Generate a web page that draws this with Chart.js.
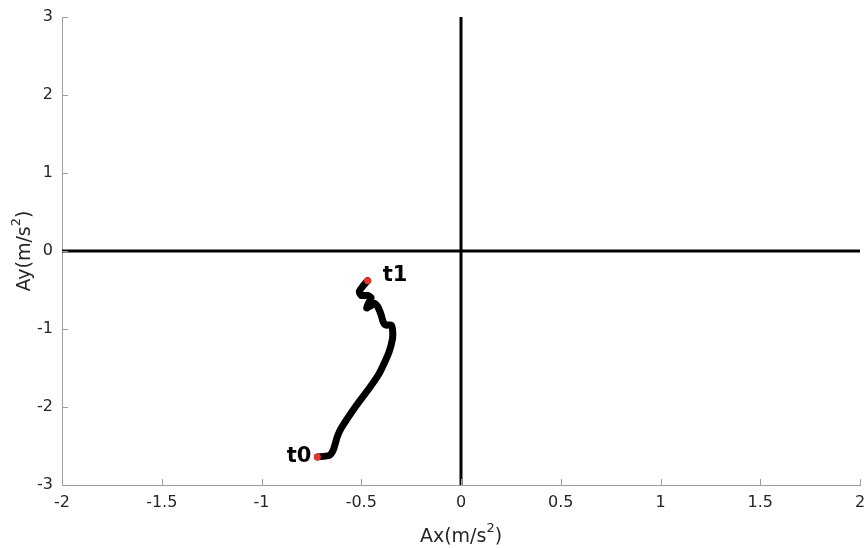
<!DOCTYPE html>
<html>
<head>
<meta charset="utf-8">
<script src="https://cdn.jsdelivr.net/npm/chart.js@4"></script>
<style>
  html, body { margin: 0; padding: 0; background: #fff; }
  canvas { display: block; }
</style>
</head>
<body>
<canvas id="accelChart" width="867" height="548"></canvas>
<script>
// trajectory from t0 to t1
const pathX = [-0.72, -0.66, -0.64, -0.62, -0.60, -0.53, -0.46, -0.41, -0.385, -0.36,
  -0.343, -0.343, -0.35, -0.377, -0.39, -0.40, -0.418, -0.435, -0.457, -0.473,
  -0.46, -0.45, -0.468, -0.50, -0.51, -0.49, -0.468];
const pathY = [-2.64, -2.62, -2.55, -2.38, -2.27, -2.00, -1.76, -1.57, -1.44, -1.29,
  -1.12, -1.01, -0.95, -0.95, -0.91, -0.82, -0.71, -0.67, -0.71, -0.73,
  -0.65, -0.60, -0.57, -0.57, -0.52, -0.445, -0.38];
const markerLabels = ['t0', 't1'];

const xRange = [-2, 2];
const yRange = [-3, 3];
const xTicks = [-2, -1.5, -1, -0.5, 0, 0.5, 1, 1.5, 2];
const yTicks = [-3, -2, -1, 0, 1, 2, 3];

const axisGrey = '#9e9e9e';
const textColor = '#262626';
const fontFamily = '"DejaVu Sans", "Liberation Sans", Arial, sans-serif';

const pathPoints = pathX.map((x, i) => ({ x, y: pathY[i] }));
const endPoints = [pathPoints[0], pathPoints[pathPoints.length - 1]];

// inward tick marks, like the original axes
const innerTicks = {
  id: 'innerTicks',
  afterDraw(chart) {
    const { ctx, chartArea, scales } = chart;
    ctx.save();
    ctx.strokeStyle = axisGrey;
    ctx.lineWidth = 1;
    ctx.beginPath();
    xTicks.forEach(v => {
      const px = Math.round(scales.x.getPixelForValue(v)) + 0.5;
      ctx.moveTo(px, chartArea.bottom);
      ctx.lineTo(px, chartArea.bottom - 6);
    });
    yTicks.forEach(v => {
      const py = Math.round(scales.y.getPixelForValue(v)) + 0.5;
      ctx.moveTo(chartArea.left, py);
      ctx.lineTo(chartArea.left + 6, py);
    });
    ctx.stroke();
    ctx.restore();
  }
};

function drawSupTitle(ctx, base, sup, tail, cx, cy) {
  const mainFont = `19px ${fontFamily}`;
  const supFont = `13px ${fontFamily}`;
  ctx.font = mainFont;
  const w1 = ctx.measureText(base).width;
  const w3 = ctx.measureText(tail).width;
  ctx.font = supFont;
  const w2 = ctx.measureText(sup).width;
  let x = cx - (w1 + w2 + w3) / 2;
  ctx.textBaseline = 'middle';
  ctx.textAlign = 'left';
  ctx.font = mainFont;
  ctx.fillText(base, x, cy);
  x += w1;
  ctx.font = supFont;
  ctx.fillText(sup, x, cy - 8);
  x += w2;
  ctx.font = mainFont;
  ctx.fillText(tail, x, cy);
}

const axisTitles = {
  id: 'axisTitles',
  afterDraw(chart) {
    const { ctx, chartArea } = chart;
    ctx.save();
    ctx.fillStyle = textColor;
    const cx = (chartArea.left + chartArea.right) / 2;
    drawSupTitle(ctx, 'Ax(m/s', '2', ')', cx, 537);
    ctx.translate(25, (chartArea.top + chartArea.bottom) / 2);
    ctx.rotate(-Math.PI / 2);
    drawSupTitle(ctx, 'Ay(m/s', '2', ')', 0, 0);
    ctx.restore();
  }
};

const pointTags = {
  id: 'pointTags',
  afterDatasetsDraw(chart) {
    const { ctx, scales } = chart;
    ctx.save();
    ctx.fillStyle = '#000';
    ctx.font = `bold 21px ${fontFamily}`;
    ctx.textBaseline = 'middle';
    const p0 = endPoints[0];
    ctx.textAlign = 'right';
    ctx.fillText(markerLabels[0], scales.x.getPixelForValue(p0.x) - 6, scales.y.getPixelForValue(p0.y));
    const p1 = endPoints[1];
    ctx.textAlign = 'left';
    ctx.fillText(markerLabels[1], scales.x.getPixelForValue(p1.x) + 15, scales.y.getPixelForValue(p1.y) - 5);
    ctx.restore();
  }
};

new Chart(document.getElementById('accelChart').getContext('2d'), {
  type: 'scatter',
  data: {
    datasets: [
      {
        label: 'x axis',
        data: [{ x: xRange[0], y: 0 }, { x: xRange[1], y: 0 }],
        showLine: true,
        borderColor: '#000',
        borderWidth: 3,
        pointRadius: 0,
        order: 3
      },
      {
        label: 'y axis',
        data: [{ x: 0, y: yRange[0] }, { x: 0, y: yRange[1] }],
        showLine: true,
        borderColor: '#000',
        borderWidth: 3,
        pointRadius: 0,
        order: 3
      },
      {
        label: 'trajectory',
        data: pathPoints,
        showLine: true,
        borderColor: '#000',
        borderWidth: 7,
        borderJoinStyle: 'round',
        borderCapStyle: 'round',
        tension: 0.2,
        pointRadius: 0,
        order: 2
      },
      {
        label: 'ends',
        data: endPoints,
        showLine: false,
        backgroundColor: '#e8352a',
        borderColor: '#e8352a',
        borderWidth: 0,
        pointRadius: 3.5,
        order: 1
      }
    ]
  },
  options: {
    responsive: false,
    animation: false,
    layout: { padding: { top: 17, right: 7, left: 0, bottom: 0 } },
    plugins: {
      legend: { display: false },
      tooltip: { enabled: false }
    },
    scales: {
      x: {
        type: 'linear',
        min: xRange[0],
        max: xRange[1],
        afterFit(scale) {
          scale.height = 63;
          scale.paddingLeft = 0;
          scale.paddingRight = 0;
        },
        afterBuildTicks(scale) { scale.ticks = xTicks.map(value => ({ value })); },
        grid: { display: false, drawTicks: false },
        border: { display: true, color: axisGrey, width: 1 },
        ticks: {
          padding: 8,
          color: textColor,
          font: { family: fontFamily, size: 16 },
          callback: value => String(value)
        }
      },
      y: {
        type: 'linear',
        min: yRange[0],
        max: yRange[1],
        afterFit(scale) {
          scale.width = 62;
          scale.paddingTop = 0;
          scale.paddingBottom = 0;
        },
        afterBuildTicks(scale) { scale.ticks = yTicks.map(value => ({ value })); },
        grid: { display: false, drawTicks: false },
        border: { display: true, color: axisGrey, width: 1 },
        ticks: {
          padding: 9,
          color: textColor,
          font: { family: fontFamily, size: 16 },
          callback: value => String(value)
        }
      }
    }
  },
  plugins: [innerTicks, axisTitles, pointTags]
});
</script>
</body>
</html>
